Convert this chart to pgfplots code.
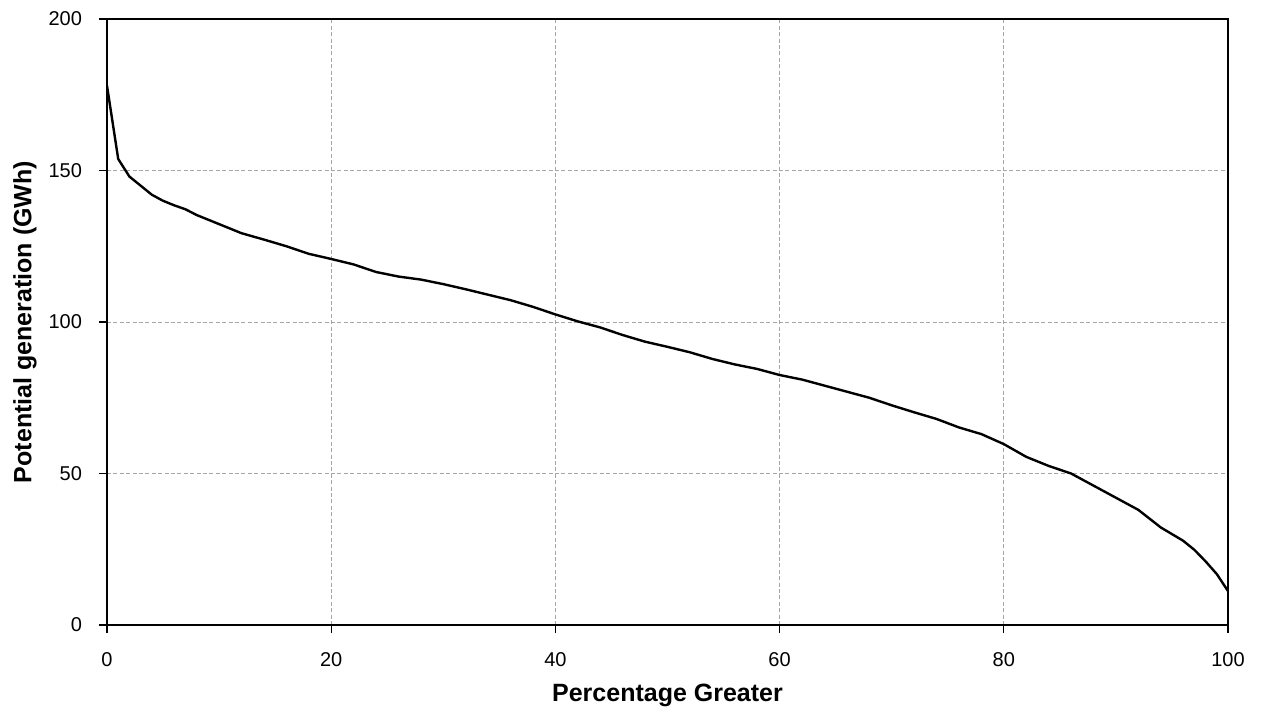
\documentclass[border=0pt]{standalone}
\usepackage{pgfplots}
\pgfplotsset{compat=1.18}
\usepackage{fontspec}
\setmainfont{Liberation Sans}
\begin{document}
\begin{tikzpicture}
\begin{axis}[
  name=ax,
  scale only axis,
  width=560.5pt, height=303pt,
  xmin=0, xmax=100, ymin=0, ymax=200,
  xtick={0,20,40,60,80,100},
  ytick={0,50,100,150,200},
  tick align=outside,
  major tick length=4pt,
  tick style={black, line width=0.6pt},
  xtick pos=bottom, ytick pos=left,
  axis line style={black, line width=1pt},
  grid=major,
  major grid style={gray!70, dash pattern=on 2pt off 1.2pt, line width=0.4pt},
  /pgf/number format/assume math mode=true,
  ticklabel style={font=\fontsize{10}{12}\selectfont},
  xticklabel style={yshift=-6pt},
  yticklabel style={xshift=-5pt},
  xlabel={Percentage Greater},
  ylabel={Potential generation (GWh)},
  label style={font=\fontsize{12.5}{14}\selectfont\bfseries},
  xlabel style={at={(axis description cs:0.5,-0.1155)}, anchor=center},
  ylabel style={at={(axis description cs:-0.0732,0.5)}, anchor=center},
]
\addplot[black, line width=1.2pt] coordinates {
(0,178) (1,153.8) (2,148) (3,145) (4,142) (5,140) (6,138.5) (7,137.2) (8,135.3) (10,132.3) (12,129.3) (14,127.2) (16,125) (18,122.5) (20,120.8) (22,119) (24,116.5) (26,115) (28,114) (30,112.5) (32,110.8) (34,109) (36,107.2) (38,105) (40,102.5) (42,100.2) (44,98.2) (46,95.7) (48,93.5) (50,91.8) (52,90) (54,87.8) (56,86) (58,84.5) (60,82.5) (62,81) (64,79) (66,77) (68,75) (70,72.5) (72,70.2) (74,68) (76,65.2) (78,63) (80,59.7) (82,55.5) (84,52.5) (86,50) (88,46) (90,42) (92,38) (94,32.2) (96,27.8) (97,24.8) (98,21) (99,16.8) (100,11.2)
};
\end{axis}
\pgfresetboundingbox
\useasboundingbox ([xshift=-53.5pt,yshift=-43pt]ax.south west) rectangle ([xshift=16.5pt,yshift=9.5pt]ax.north east);
\end{tikzpicture}
\end{document}
